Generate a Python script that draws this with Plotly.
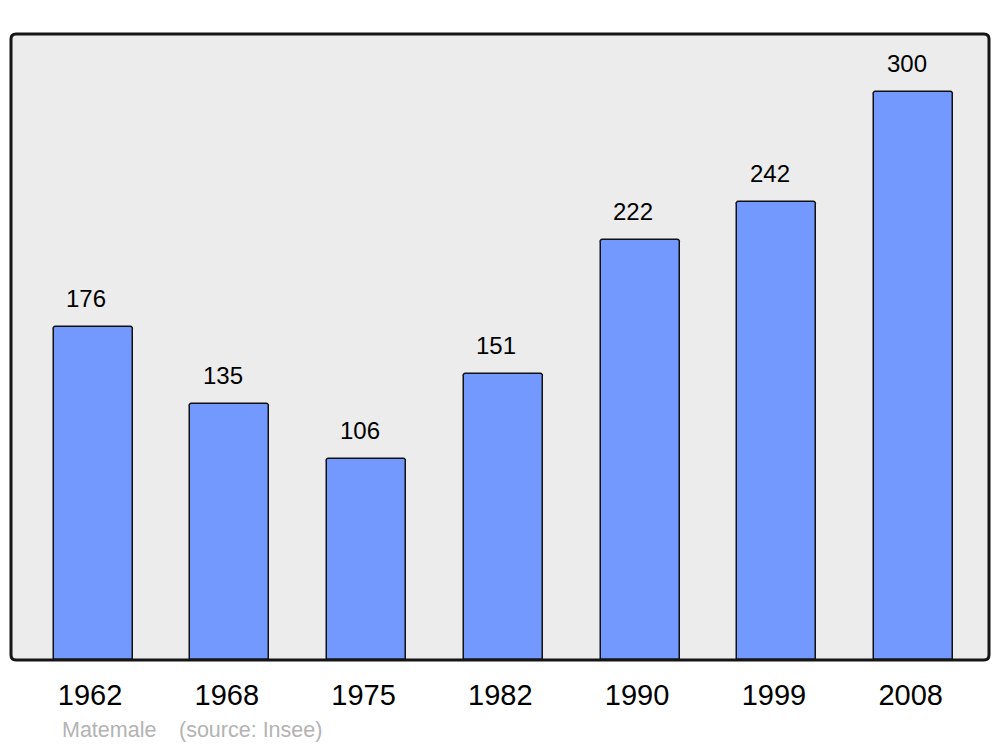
import plotly.graph_objects as go

years = ["1962", "1968", "1975", "1982", "1990", "1999", "2008"]
population = [176, 135, 106, 151, 222, 242, 300]
source_name = "Matemale"
source_note = "(source: Insee)"

W, H = 1000, 747
L, R, T, B = 11, 11, 34, 87
pw, ph = W - L - R, H - T - B

xs = list(range(len(years)))

fig = go.Figure()
fig.add_trace(go.Bar(
    x=xs, y=population, width=0.578,
    marker=dict(color="#7399ff", line=dict(color="#111111", width=1.5), cornerradius=3),
    hoverinfo="x+y",
))

for x, v in zip(xs, population):
    fig.add_annotation(x=x, y=v, text=str(v), showarrow=False, xref="x", yref="y",
                       yanchor="bottom", yshift=13, xshift=-7,
                       font=dict(family="Liberation Sans, Arial", size=24, color="#000"))

# rounded frame
rx, ry = 5 / pw, 5 / ph
path = (f"M {rx},0 L {1-rx},0 Q 1,0 1,{ry} L 1,{1-ry} Q 1,1 {1-rx},1 "
        f"L {rx},1 Q 0,1 0,{1-ry} L 0,{ry} Q 0,0 {rx},0 Z")
fig.add_shape(type="path", path=path, xref="paper", yref="paper",
              line=dict(color="#151515", width=3), layer="above")

fig.add_annotation(x=(60 - L) / pw, y=(T + ph - 730) / ph, xref="paper", yref="paper",
                   text=source_name, showarrow=False, xanchor="left", yanchor="middle",
                   font=dict(family="Liberation Sans, Arial", size=21.5, color="#b3b3b3"))
fig.add_annotation(x=(177 - L) / pw, y=(T + ph - 730) / ph, xref="paper", yref="paper",
                   text=source_note, showarrow=False, xanchor="left", yanchor="middle",
                   font=dict(family="Liberation Sans, Arial", size=21.5, color="#b3b3b3"))

fig.update_layout(
    width=W, height=H,
    margin=dict(l=L, r=R, t=T, b=B, autoexpand=False),
    paper_bgcolor="white", plot_bgcolor="#ececec",
    showlegend=False,
    bargap=0,
    xaxis=dict(range=[-0.60, 6.551], tickvals=xs, ticktext=years,
               showgrid=False, zeroline=False, showline=False,
               ticks="outside", ticklen=9, tickcolor="rgba(0,0,0,0)",
               ticklabelshift=-3,
               tickfont=dict(family="Liberation Sans, Arial", size=29, color="#000")),
    yaxis=dict(range=[0, 330.6], showgrid=False, zeroline=False, showline=False,
               showticklabels=False, ticks=""),
)

fig.write_html("out.html", config={"displayModeBar": False},
               post_script="document.body.style.margin='0px';document.body.style.overflow='hidden';")
